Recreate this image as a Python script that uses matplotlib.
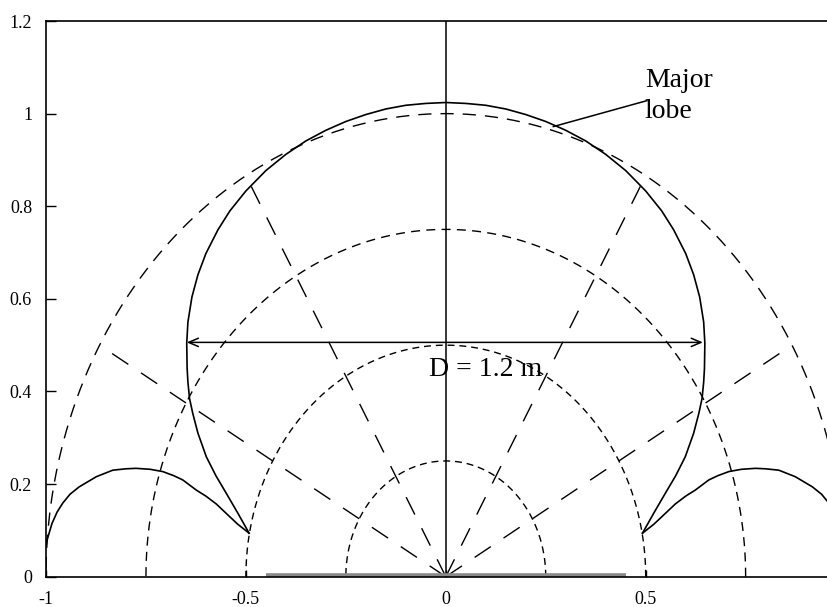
import numpy as np
import matplotlib
matplotlib.use("Agg")
import matplotlib.pyplot as plt

plt.rcParams['font.family'] = ['Liberation Serif', 'DejaVu Serif']

# ---- data (left half, from the top of the lobe down to the cusp;
#      the right half is the mirror image) ----
main_lobe_x = [0.0, -0.05, -0.10, -0.15, -0.20, -0.25, -0.30, -0.35, -0.40, -0.45,
               -0.50, -0.54, -0.57, -0.60, -0.62, -0.635, -0.645, -0.648, -0.647,
               -0.645, -0.641, -0.633, -0.62, -0.599, -0.575, -0.549, -0.52, -0.492]
main_lobe_y = [1.024, 1.022, 1.018, 1.010, 0.998, 0.983, 0.964, 0.941, 0.912, 0.877,
               0.833, 0.790, 0.749, 0.698, 0.652, 0.604, 0.550, 0.504, 0.450,
               0.420, 0.385, 0.353, 0.310, 0.259, 0.218, 0.180, 0.137, 0.094]

side_lobe_x = [-1.0, -0.995, -0.985, -0.972, -0.958, -0.94, -0.917, -0.874, -0.833,
               -0.80, -0.775, -0.74, -0.708, -0.68, -0.658, -0.624, -0.60, -0.574,
               -0.541, -0.52, -0.492]
side_lobe_y = [0.07, 0.086, 0.115, 0.140, 0.159, 0.178, 0.194, 0.216, 0.230,
               0.233, 0.234, 0.232, 0.227, 0.218, 0.209, 0.187, 0.174, 0.157,
               0.130, 0.113, 0.094]

grid_radii = [0.25, 0.5, 0.75, 1.0]
radial_angles_deg = [30, 60, 120, 150]
aperture = [-0.45, 0.45]
beam_width = [-0.648, 0.643]
beam_width_level = 0.506

x_ticks = [-1, -0.5, 0, 0.5]
x_tick_labels = ['-1', '-0.5', '0', '0.5']
y_ticks = [0, 0.2, 0.4, 0.6, 0.8, 1.0, 1.2]
y_tick_labels = ['0', '0.2', '0.4', '0.6', '0.8', '1', '1.2']

# ---- figure ----
fig = plt.figure(figsize=(8.28, 6.07), dpi=100)
ax = fig.add_axes([46 / 828, 30.3 / 607, 1 - 46 / 828, 555.7 / 607])
ax.set_xlim(-1, 0.956)
ax.set_ylim(0, 1.2)

# grid circles
theta = np.linspace(0, np.pi, 400)
circle_dashes = {0.25: (5, 3.5), 0.5: (5, 3.5), 0.75: (6.5, 4.5), 1.0: (9.5, 6.5)}
for r in grid_radii:
    ax.plot(r * np.cos(theta), r * np.sin(theta), color='black', lw=1.0,
            dashes=circle_dashes[r])

# radial lines
for a in radial_angles_deg:
    t = np.deg2rad(a)
    ax.plot([0, np.cos(t)], [0, np.sin(t)], color='black', lw=1.0, dashes=(14, 11))

# vertical axis line
ax.plot([0, 0], [0, 1.2], color='black', lw=1.1)

# aperture
ax.plot(aperture, [0.004, 0.004], color='#8a8a8a', lw=2.6, solid_capstyle='butt')

# main lobe: left half reversed (cusp -> top), then mirrored right half (top -> cusp)
mx = np.array(main_lobe_x)
my = np.array(main_lobe_y)
ax.plot(np.concatenate([mx[::-1], -mx[1:]]), np.concatenate([my[::-1], my[1:]]),
        color='black', lw=1.2, solid_joinstyle='round')
# side lobes
sx = np.array(side_lobe_x)
sy = np.array(side_lobe_y)
ax.plot(sx, sy, color='black', lw=1.2, solid_joinstyle='round')
ax.plot(-sx, sy, color='black', lw=1.2, solid_joinstyle='round')

# beam width arrow
ax.annotate('', xy=(beam_width[1], beam_width_level), xytext=(beam_width[0], beam_width_level),
            arrowprops=dict(arrowstyle='<->,head_length=0.7,head_width=0.3',
                            color='black', lw=1.1, shrinkA=0, shrinkB=0))
ax.text(0.10, 0.433, 'D = 1.2 m', fontsize=20, ha='center', va='baseline')

# Major lobe label
ax.text(0.498, 1.098, 'Major\nlobe', fontsize=20, ha='left', va='top', linespacing=1.3)
ax.plot([0.503, 0.269], [1.028, 0.972], color='black', lw=1.1)

# axes styling
ax.set_xticks(x_ticks)
ax.set_xticklabels(x_tick_labels)
ax.set_yticks(y_ticks)
ax.set_yticklabels(y_tick_labels)
ax.tick_params(axis='both', direction='in', labelsize=13, width=1.0)
ax.tick_params(axis='y', length=7, pad=10)
ax.tick_params(axis='x', length=5, pad=10)
ax.spines['right'].set_visible(False)
for s in ['left', 'bottom', 'top']:
    ax.spines[s].set_linewidth(1.2)

fig.savefig('out.png', dpi=100)
